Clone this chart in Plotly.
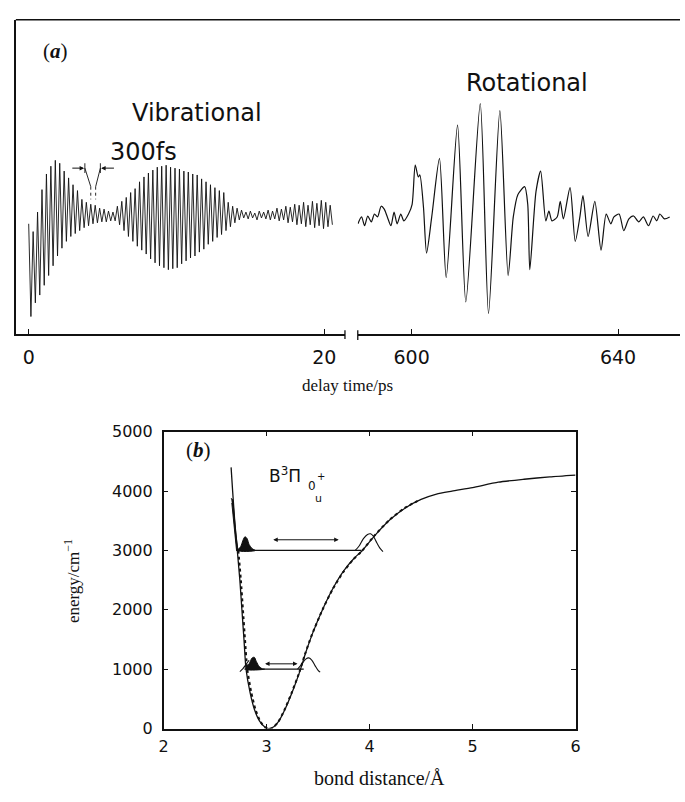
import plotly.graph_objects as go

W, H = 685, 802

# ---------------- data: panel (a) ----------------
vib_period_ps = 0.3
vib_tops = [-7, -15, 5, 28, 44, 52, 58, 55, 47, 40, 33, 27, 18, 15, 13, 12, 9, 8, 6, 5,
            11, 16, 20, 25, 29, 36, 41, 45, 48, 51, 52, 53, 51, 50, 49, 47, 46, 44, 43, 39,
            36, 33, 30, 27, 25, 15, 11, 9, 7, 5, 6, 4, 6, 5, 7, 6, 9, 8, 11, 10,
            13, 12, 15, 12, 16, 14, 17, 15, 12]
vib_bottoms = [-102, -88, -80, -70, -60, -50, -40, -32, -25, -20, -17, -14, -11, -9, -7, -6, -5, -5, -4, -4,
               -8, -14, -20, -25, -30, -34, -38, -43, -47, -50, -52, -54, -53, -52, -48, -45, -42, -40, -36, -33,
               -28, -25, -21, -18, -14, -10, -6, -3, -1, -2, -1, -3, -1, -2, -3, -2, -4, -3, -6, -5,
               -8, -7, -10, -8, -11, -9, -12, -10, -8]

rot_t = [589.6, 590.3, 590.9, 591.5, 592.2, 592.8, 593.4, 594.1, 594.7, 595.3, 596.0, 596.6, 597.2,
         597.9, 598.5, 599.4, 600.1, 600.7, 601.3, 601.6, 602.3, 602.9, 603.9, 605.4, 606.7, 608.9,
         610.5, 613.3, 614.9, 617.1, 618.7, 619.7, 620.6, 621.9, 622.5, 622.9, 624.1, 625.0, 626.0,
         626.6, 627.2, 628.2, 628.8, 629.4, 630.7, 631.7, 632.6, 633.2, 634.2, 635.5, 636.7, 637.7,
         638.6, 639.2, 640.2, 641.1, 642.1, 643.0, 644.0, 644.9, 645.9, 646.8, 647.5, 648.1, 649.0, 650.0]
rot_s = [-7, 0, -9, 1, -5, 3, 0, 11, 8, 0, -9, 5, -7,
         3, -4, 3, 13, 53, 41, 43, 10, -37, 0, 60, -62, 94,
         -87, 116, -99, 109, -60, 0, 23, 31, 13, -54, 26, 47, -4,
         6, -4, 0, 16, -2, 30, -25, 0, 22, -20, 16, -34, 3,
         -7, 0, 3, -14, -2, 1, -5, 0, -9, 1, -4, 3, -2, 0]

# ---------------- data: panel (b) ----------------
pot_r = [2.655, 2.67, 2.69, 2.715, 2.74, 2.76, 2.78, 2.80, 2.84, 2.88, 2.93, 2.98, 3.02, 3.07, 3.12,
         3.18, 3.25, 3.32, 3.38, 3.45, 3.55, 3.65, 3.75, 3.85, 3.93, 4.05, 4.2, 4.35, 4.5, 4.65,
         4.8, 5.0, 5.25, 5.5, 5.75, 6.0]
pot_E = [4400, 4000, 3500, 3000, 2500, 2000, 1500, 1000, 600, 330, 130, 30, 0, 30, 130,
         330, 620, 950, 1280, 1620, 2030, 2380, 2660, 2870, 3000, 3250, 3520, 3720, 3860, 3950,
         4000, 4060, 4150, 4200, 4240, 4270]

rkr_r = [2.725, 2.75, 2.77, 2.79, 2.812, 2.852, 2.892, 2.94, 2.985, 3.02, 3.06, 3.11, 3.17,
         3.24, 3.312, 3.372, 3.442, 3.542, 3.642, 3.742, 3.842, 3.922, 4.042, 4.19, 4.34, 4.49]
rkr_E = [3000, 2500, 2000, 1500, 1000, 600, 320, 115, 20, -12, 15, 105, 300,
         590, 920, 1250, 1590, 2000, 2350, 2630, 2850, 2985, 3240, 3510, 3715, 3855]

level_E = [3000, 1000]
level_r_left = [2.705, 2.785]
level_r_right = [3.92, 3.36]

wall_r = [2.655, 2.672, 2.70, 2.722, 2.708, 2.685, 2.662]
wall_E = [3880, 3850, 3300, 3000, 3000, 3450, 3800]

pk3_fill_r = [2.72, 2.75, 2.77, 2.79, 2.81, 2.83, 2.86, 2.89, 2.72]
pk3_fill_E = [3000, 3070, 3170, 3230, 3200, 3100, 3030, 3000, 3000]
pk3_open_r = [3.86, 3.90, 3.94, 3.98, 4.01, 4.04, 4.07, 4.10, 4.13]
pk3_open_E = [3000, 3080, 3200, 3270, 3280, 3230, 3130, 3040, 2980]

pk1_fill_r = [2.80, 2.83, 2.86, 2.88, 2.90, 2.93, 2.96, 2.98, 2.80]
pk1_fill_E = [1000, 1090, 1190, 1200, 1130, 1040, 1005, 1000, 1000]
pk1_tail_r = [2.74, 2.77, 2.80, 2.83]
pk1_tail_E = [960, 1010, 1080, 1150]
pk1_open_r = [3.30, 3.34, 3.38, 3.41, 3.44, 3.47, 3.50, 3.52]
pk1_open_E = [1000, 1080, 1170, 1190, 1150, 1060, 980, 950]

arrow_E = [3180, 1090]
arrow_r_from = [3.05, 2.97]
arrow_r_to = [3.70, 3.30]

# --------------------------------------------------
def px(x):
    return x / W


def py(y):
    return 1 - y / H


vib_t, vib_s = [], []
for k in range(len(vib_tops)):
    vib_t.append(k * vib_period_ps)
    vib_s.append(vib_tops[k])
    vib_t.append(k * vib_period_ps + vib_period_ps / 2)
    vib_s.append(vib_bottoms[k])

BLACK = "#111"
fig = go.Figure()

fig.add_trace(go.Scatter(x=vib_t, y=vib_s, mode="lines", line=dict(color=BLACK, width=0.9),
                         xaxis="x", yaxis="y", hoverinfo="skip"))
fig.add_trace(go.Scatter(x=rot_t, y=rot_s, mode="lines",
                         line=dict(color=BLACK, width=1.2, shape="spline", smoothing=0.7),
                         xaxis="x2", yaxis="y", hoverinfo="skip"))

# panel b
fig.add_trace(go.Scatter(x=pot_r, y=pot_E, mode="lines",
                         line=dict(color=BLACK, width=1.3, shape="spline", smoothing=0.6),
                         xaxis="x3", yaxis="y3"))
fig.add_trace(go.Scatter(x=rkr_r, y=rkr_E, mode="lines",
                         line=dict(color=BLACK, width=2, dash="dot", shape="spline", smoothing=0.6),
                         xaxis="x3", yaxis="y3"))
for e, a, b in zip(level_E, level_r_left, level_r_right):
    fig.add_trace(go.Scatter(x=[a, b], y=[e, e], mode="lines", line=dict(color=BLACK, width=1.2),
                             xaxis="x3", yaxis="y3"))
fig.add_trace(go.Scatter(x=wall_r, y=wall_E, mode="lines", fill="toself", fillcolor=BLACK,
                         line=dict(color=BLACK, width=1), xaxis="x3", yaxis="y3"))
for rr, ee in [(pk3_fill_r, pk3_fill_E), (pk1_fill_r, pk1_fill_E)]:
    fig.add_trace(go.Scatter(x=rr, y=ee, mode="lines", fill="toself", fillcolor=BLACK,
                             line=dict(color=BLACK, width=1, shape="spline"), xaxis="x3", yaxis="y3"))
for rr, ee in [(pk3_open_r, pk3_open_E), (pk1_open_r, pk1_open_E), (pk1_tail_r, pk1_tail_E)]:
    fig.add_trace(go.Scatter(x=rr, y=ee, mode="lines",
                             line=dict(color=BLACK, width=1.1, shape="spline"), xaxis="x3", yaxis="y3"))

annotations = []
for e, a, b in zip(arrow_E, arrow_r_from, arrow_r_to):
    annotations.append(dict(x=b, y=e, ax=a, ay=e, xref="x3", yref="y3", axref="x3", ayref="y3",
                            showarrow=True, arrowhead=2, arrowside="end+start", arrowsize=0.9,
                            arrowwidth=1, arrowcolor=BLACK, text=""))

# 300 fs marker (panel a, data coords)
annotations.append(dict(x=3.75, y=50, ax=2.85, ay=50, xref="x", yref="y", axref="x", ayref="y",
                        showarrow=True, arrowhead=2, arrowsize=0.9, arrowwidth=1, arrowcolor=BLACK, text=""))
annotations.append(dict(x=4.9, y=50, ax=5.87, ay=50, xref="x", yref="y", axref="x", ayref="y",
                        showarrow=True, arrowhead=2, arrowsize=0.9, arrowwidth=1, arrowcolor=BLACK, text=""))

shapes = []
for (x0, y0, x1, y1, dash) in [(3.8, 45, 3.8, 55, "solid"), (4.85, 45, 4.85, 55, "solid"),
                               (3.8, 50, 4.2, 31, "solid"), (4.85, 50, 4.53, 31, "solid"),
                               (4.2, 31, 4.2, 18, "dot"), (4.53, 31, 4.53, 18, "dot")]:
    shapes.append(dict(type="line", xref="x", yref="y", x0=x0, y0=y0, x1=x1, y1=y1,
                       line=dict(color=BLACK, width=0.9, dash=dash)))

# top border of panel a
shapes.append(dict(type="line", xref="paper", yref="paper", x0=px(11), x1=1, y0=py(11), y1=py(11),
                   line=dict(color=BLACK, width=1.5)))
# axis break marks
shapes.append(dict(type="line", xref="paper", yref="paper", x0=px(345), x1=px(345), y0=py(329), y1=py(338),
                   line=dict(color=BLACK, width=1.3)))
shapes.append(dict(type="line", xref="paper", yref="paper", x0=px(358), x1=px(358), y0=py(329), y1=py(339),
                   line=dict(color=BLACK, width=1.3)))

SANS = "DejaVu Sans"
SERIF = "Liberation Serif"


def txt(x, y, s, size, family=SANS, **kw):
    d = dict(x=px(x), y=py(y), xref="paper", yref="paper", text=s, showarrow=False,
             font=dict(family=family, size=size, color=BLACK), xanchor="center", yanchor="middle")
    d.update(kw)
    annotations.append(d)


txt(51, 43, "(<b><i>a</i></b>)", 21, SERIF)
txt(195, 107, "Vibrational", 24)
txt(141, 146, "300fs", 24)
txt(530, 76, "Rotational", 24)
txt(348, 386, "delay time/ps", 17, SERIF)
txt(196, 452, "(<b><i>b</i></b>)", 21, SERIF)
txt(284, 477, "B<sup>3</sup>Π", 17)
txt(312, 489, "0", 12)
txt(321, 479, "+", 10)
txt(318, 501, "u", 11)
txt(68, 586, "energy/cm<sup>−1</sup>", 17, SERIF, textangle=-90)
txt(380, 788, "bond distance/Å", 20, SERIF)

axis_common = dict(showgrid=False, zeroline=False, showline=True, linecolor=BLACK, linewidth=1.5,
                   ticks="inside", tickcolor=BLACK, ticklen=5, tickwidth=1.3)

fig.update_layout(
    width=W, height=H, margin=dict(l=0, r=0, t=0, b=0),
    paper_bgcolor="white", plot_bgcolor="white", showlegend=False,
    xaxis=dict(domain=[px(11), px(345)], range=[-0.87, 21.4], anchor="y", tickvals=[0, 20],
               ticklabelstandoff=5, tickfont=dict(family=SANS, size=19, color=BLACK), **axis_common),
    xaxis2=dict(domain=[px(358), 1], range=[589.57, 652.0], anchor="y", tickvals=[600, 640],
                ticklabelstandoff=5, tickfont=dict(family=SANS, size=19, color=BLACK), **axis_common),
    yaxis=dict(domain=[py(333), py(11)], range=[-120, 202], anchor="x", showgrid=False, zeroline=False,
               showline=True, linecolor=BLACK, linewidth=1.5, ticks="", showticklabels=False),
    xaxis3=dict(domain=[px(161), px(579)], range=[2, 6], anchor="y3", dtick=1, mirror="ticks",
                ticklabelstandoff=3, tickfont=dict(family=SANS, size=16, color=BLACK), **axis_common),
    yaxis3=dict(domain=[py(737), py(433)], range=[0, 5000], anchor="x3", dtick=1000, mirror="ticks",
                ticklabelstandoff=6, tickfont=dict(family=SANS, size=16, color=BLACK), **axis_common),
    annotations=annotations, shapes=shapes,
)

fig.write_html("out.html")
